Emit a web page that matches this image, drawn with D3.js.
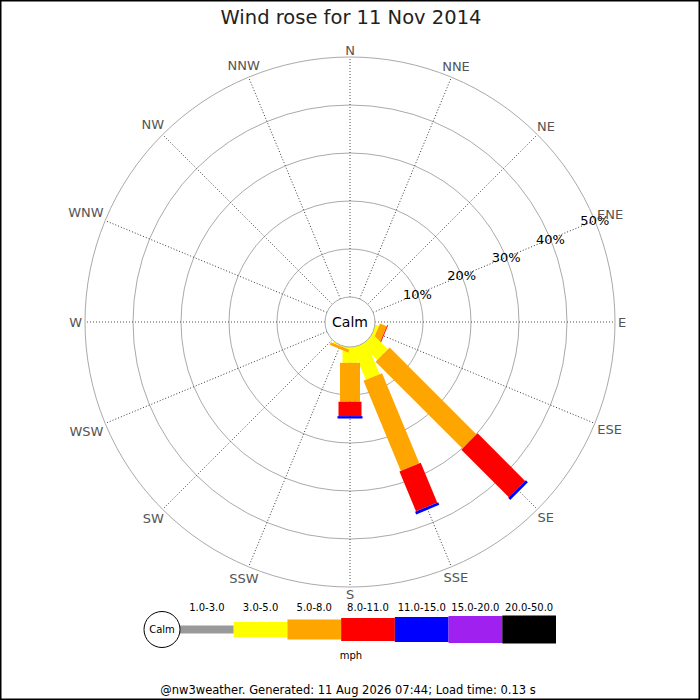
<!DOCTYPE html>
<html>
<head>
<meta charset="utf-8">
<script src="https://cdn.jsdelivr.net/npm/d3@7"></script>
<style>
  body { margin: 0; background: #fff; }
  svg { display: block; font-family: "DejaVu Sans", sans-serif; }
</style>
</head>
<body>
<svg id="chart" width="700" height="700"></svg>
<script>
// compass points, clockwise from north
const directions = ['N', 'NNE', 'NE', 'ENE', 'E', 'ESE', 'SE', 'SSE',
                    'S', 'SSW', 'SW', 'WSW', 'W', 'WNW', 'NW', 'NNW'];

const speedClasses = ['1.0-3.0', '3.0-5.0', '5.0-8.0', '8.0-11.0', '11.0-15.0', '15.0-20.0', '20.0-50.0'];

// % of time per direction, one array per speed class
const pct1to3   = [0, 0, 0, 0, 0, 0,    0,    0,    0,   0,   0, 0, 0, 0, 0, 0];
const pct3to5   = [0, 0, 0, 0, 0, 0.7,  4.4,  7.2,  3.3, 0.2, 0, 0, 0, 0, 0, 0];
const pct5to8   = [0, 0, 0, 0, 0, 1.5, 25.6, 20.3,  8.1, 0.6, 0, 0, 0, 0, 0, 0];
const pct8to11  = [0, 0, 0, 0, 0, 0.2, 14.0,  9.0,  3.0, 0,   0, 0, 0, 0, 0, 0];
const pct11to15 = [0, 0, 0, 0, 0, 0,    0.6,  0.6,  0.5, 0,   0, 0, 0, 0, 0, 0];
const pct15to20 = [0, 0, 0, 0, 0, 0,    0,    0,    0,   0,   0, 0, 0, 0, 0, 0];
const pct20to50 = [0, 0, 0, 0, 0, 0,    0,    0,    0,   0,   0, 0, 0, 0, 0, 0];

const ringTicks = [10, 20, 30, 40, 50];

const title = 'Wind rose for 11 Nov 2014';
const footer = '@nw3weather. Generated: 11 Aug 2026 07:44; Load time: 0.13 s';

const classColors = ['#999999', '#ffff00', '#ffa500', '#ff0000', '#0000ff', '#a020f0', '#000000'];
const classWidths = [8, 15, 20, 23, 25, 27, 28];

const series = [pct1to3, pct3to5, pct5to8, pct8to11, pct11to15, pct15to20, pct20to50];

const svg = d3.select('#chart');
const cx = 350, cy = 322;

// radial scale: 0% sits on the calm circle
const r = d3.scaleLinear().domain([0, 50]).range([25, 265]);
const angle = d3.scalePoint().domain(directions).range([0, 360 - 22.5]);

svg.append('rect')
  .attr('x', 0.75).attr('y', 0.75)
  .attr('width', 698.5).attr('height', 698.5)
  .attr('fill', '#fff').attr('stroke', '#000').attr('stroke-width', 1.5);

svg.append('text')
  .attr('x', 351).attr('y', 24)
  .attr('text-anchor', 'middle')
  .style('font-size', '19.5px')
  .attr('fill', '#222')
  .text(title);

const g = svg.append('g').attr('transform', `translate(${cx},${cy})`);

// rings
g.selectAll('circle.ring')
  .data(ringTicks)
  .join('circle')
  .attr('class', 'ring')
  .attr('r', d => r(d))
  .attr('fill', 'none')
  .attr('stroke', '#aaa')
  .attr('stroke-width', 1);

// spokes
g.selectAll('line.spoke')
  .data(directions)
  .join('line')
  .attr('class', 'spoke')
  .attr('transform', d => `rotate(${angle(d)})`)
  .attr('x1', 0).attr('y1', -r(0))
  .attr('x2', 0).attr('y2', -r(50))
  .attr('stroke', '#222')
  .attr('stroke-width', 0.8)
  .attr('stroke-dasharray', '1,2');

// stacked bars
const segs = [];
directions.forEach((dir, i) => {
  let cum = 0;
  series.forEach((s, k) => {
    const v = s[i];
    if (v > 0) {
      segs.push({ dir, k, start: cum, end: cum + v });
      cum += v;
    }
  });
});

g.selectAll('rect.seg')
  .data(segs)
  .join('rect')
  .attr('class', 'seg')
  .attr('transform', d => `rotate(${angle(d.dir)})`)
  .attr('x', d => -classWidths[d.k] / 2)
  .attr('width', d => classWidths[d.k])
  .attr('y', d => -r(d.end))
  .attr('height', d => r(d.end) - (d.start === 0 ? 0 : r(d.start)))
  .attr('fill', d => classColors[d.k]);

// calm circle
g.append('circle')
  .attr('r', r(0))
  .attr('fill', '#fff')
  .attr('stroke', '#aaa');

g.append('text')
  .attr('text-anchor', 'middle')
  .attr('dy', '0.35em')
  .style('font-size', '14px')
  .text('Calm');

// percent labels along ENE spoke
const labAng = angle('ENE') * Math.PI / 180;
g.selectAll('text.pct')
  .data(ringTicks)
  .join('text')
  .attr('class', 'pct')
  .attr('x', d => r(d) * Math.sin(labAng))
  .attr('y', d => -r(d) * Math.cos(labAng))
  .attr('dy', '0.35em')
  .attr('text-anchor', 'middle')
  .style('font-size', '13px')
  .text(d => d + '%');

// direction labels outside the outer ring
g.selectAll('text.dir')
  .data(directions)
  .join('text')
  .attr('class', 'dir')
  .attr('text-anchor', 'middle')
  .attr('dy', '0.35em')
  .attr('fill', '#555')
  .style('font-size', '13px')
  .text(d => d)
  .each(function(d) {
    const a = angle(d) * Math.PI / 180;
    const s = Math.sin(a), c = Math.cos(a);
    const hw = this.getComputedTextLength() / 2;
    const rr = r(50) + 3 + hw * Math.abs(s) + 4 * Math.abs(c);
    d3.select(this).attr('x', rr * s).attr('y', -rr * c);
  });

// legend
const lx = d3.scaleBand().domain(speedClasses).range([180, 556]);
const ly = 629.5;

svg.append('g').selectAll('rect')
  .data(speedClasses)
  .join('rect')
  .attr('x', d => lx(d))
  .attr('width', lx.bandwidth())
  .attr('y', (d, i) => ly - classWidths[i] / 2)
  .attr('height', (d, i) => classWidths[i])
  .attr('fill', (d, i) => classColors[i]);

svg.append('g').selectAll('text')
  .data(speedClasses)
  .join('text')
  .attr('x', d => lx(d) + lx.bandwidth() / 2)
  .attr('y', 611)
  .attr('text-anchor', 'middle')
  .style('font-size', '10px')
  .text(d => d);

svg.append('circle')
  .attr('cx', 162).attr('cy', ly).attr('r', 18)
  .attr('fill', '#fff').attr('stroke', '#000');

svg.append('text')
  .attr('x', 162).attr('y', ly).attr('dy', '0.35em')
  .attr('text-anchor', 'middle')
  .style('font-size', '10px')
  .text('Calm');

svg.append('text')
  .attr('x', 351).attr('y', 659)
  .attr('text-anchor', 'middle')
  .style('font-size', '10px')
  .text('mph');

svg.append('text')
  .attr('x', 348).attr('y', 694)
  .attr('text-anchor', 'middle')
  .style('font-size', '11.5px')
  .text(footer);
</script>
</body>
</html>
